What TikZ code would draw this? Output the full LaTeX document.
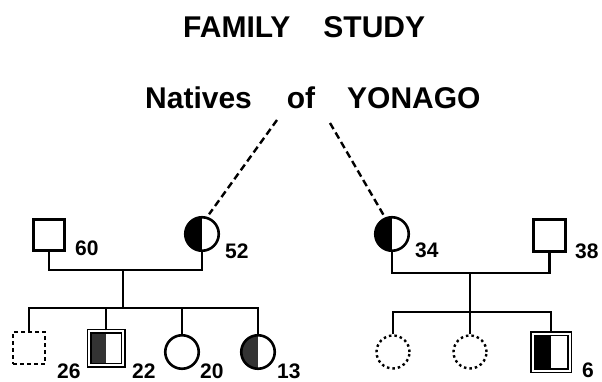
\documentclass[tikz,border=0pt]{standalone}
\usepackage{fontspec}
\setmainfont{Liberation Sans}
\begin{document}
\begin{tikzpicture}[x=1pt,y=-1pt,
  ln/.style={line width=2.6pt},
  dashln/.style={line width=2.4pt, dash pattern=on 7pt off 4pt},
  pc/.style={circle, draw, line width=2.6pt, inner sep=0pt, minimum size=#1},
  ps/.style={rectangle, draw, line width=2.6pt, inner sep=0pt, minimum size=#1},
  dbl/.style={double, line width=1.5pt, double distance=2pt},
  halfL/.style={path picture={\fill[#1] (path picture bounding box.south west) rectangle (path picture bounding box.north);}},
  dotl/.style={line width=2.4pt, dash pattern=on 2.5pt off 3pt},
  dashsq/.style={line width=2.2pt, dash pattern=on 4pt off 3pt},
  lab/.style={anchor=base west, inner sep=0pt, font=\fontsize{21}{21}\selectfont\bfseries},
  ttl/.style={anchor=base west, inner sep=0pt, font=\fontsize{30}{30}\selectfont\bfseries}
]
\useasboundingbox (0,0) rectangle (602,382);
\fill[white] (0,0) rectangle (602,382);

% titles
\node[ttl] (t1) at (183,38) {FAMILY\hspace{33pt}STUDY};
\node[ttl] (t2) at (145,109) {Natives\hspace{35pt}of\hspace{32pt}YONAGO};

% parents
\node[ps=30.5pt] (f60) at (49,235) {};
\node[pc=33.5pt, halfL=black] (m52) at (202,234) {};
\node[pc=33.5pt, halfL=black] (m34) at (392,234) {};
\node[ps=32.5pt] (f38) at (549.5,235.5) {};

% children left
\node[ps=32pt, dashsq] (c26) at (29,348) {};
\node[ps=34pt, dbl, halfL=black!80] (c22) at (106,348) {};
\node[pc=33.5pt] (c20) at (182,352) {};
\node[pc=33.5pt, halfL=black!80] (c13) at (258,352) {};

% children right
\node[pc=33pt, dotl] (c1) at (393,352) {};
\node[pc=33pt, dotl] (c2) at (470,352) {};
\node[ps=37pt, dbl, halfL=black] (c6) at (551,352) {};

% labels
\node[lab] (l60) at (75,255) {60};
\node[lab] (l52) at (225,258) {52};
\node[lab] (l34) at (415,257) {34};
\node[lab] (l38) at (575,258) {38};
\node[lab] (l26) at (57,378) {26};
\node[lab] (l22) at (132,378) {22};
\node[lab] (l20) at (200,378) {20};
\node[lab] (l13) at (277,378) {13};
\node[lab] (l6) at (582,377) {6};

% connectors left family
\coordinate (pL) at (123,270);
\coordinate (sL) at (123,308);
\draw[ln] (f60.south) |- (pL) -| (m52.south);
\draw[ln] (pL) -- (sL);
\draw[ln] (c26.north) |- (sL) -| (c13.north);
\draw[ln] (c22.north) -- (c22.north |- sL);
\draw[ln] (c20.north) -- (c20.north |- sL);

% connectors right family
\coordinate (pR) at (470,273);
\coordinate (sR) at (470,312);
\draw[ln] (m34.south) |- (pR) -| (f38.south);
\draw[ln] (pR) -- (sR);
\draw[ln] (c1.north) |- (sR) -| (c6.north);
\draw[ln] (c2.north) -- (c2.north |- sR);

% dashed lines from title
\coordinate (dl) at (277,120);
\coordinate (dr) at (330,123);
\draw[dashln, shorten >=3pt] (dl) -- (m52.73);
\draw[dashln, shorten >=3pt] (dr) -- (m34.113);
\end{tikzpicture}
\end{document}
